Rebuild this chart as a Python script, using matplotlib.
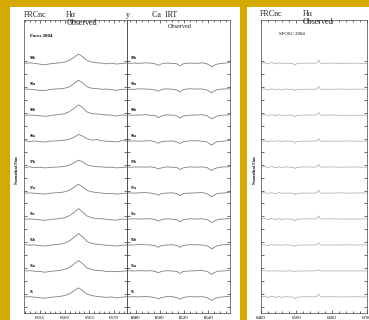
import matplotlib
matplotlib.use('Agg')
import matplotlib.pyplot as plt
import numpy as np
from matplotlib.patches import Rectangle
from matplotlib.ticker import MultipleLocator

plt.rcParams['font.family'] = ['Liberation Serif', 'DejaVu Serif']

# 觀測日期標籤（由上而下）
labels = ['99b', '99a', '98b', '98a', '97b', '97a', '96c', '96b', '96a', '95']

# H-alpha 波長格點與各列相對流量
ha_wave = [6552.0, 6553.0, 6554.0, 6555.0, 6556.0, 6557.0, 6558.0, 6559.0, 6560.0,
           6561.0, 6562.0, 6562.8, 6563.6, 6564.5, 6565.5, 6566.5, 6567.5, 6568.5,
           6569.5, 6570.5, 6571.5, 6572.5]
ha_flux = [
    [0.00, 0.02, 0.00, -0.03, -0.06, -0.02, 0.00, 0.02, 0.05, 0.12, 0.25, 0.36, 0.26, 0.12, 0.05, 0.02, 0.01, -0.02, 0.01, -0.03, 0.00, 0.01],
    [0.01, 0.00, -0.02, -0.04, -0.05, -0.01, 0.01, 0.02, 0.04, 0.10, 0.24, 0.35, 0.25, 0.10, 0.04, 0.03, 0.00, 0.01, -0.02, -0.04, 0.00, 0.00],
    [0.00, 0.01, 0.00, -0.02, -0.04, -0.02, 0.01, 0.03, 0.06, 0.14, 0.28, 0.40, 0.30, 0.13, 0.06, 0.05, 0.03, 0.01, 0.00, -0.03, 0.01, 0.00],
    [0.01, -0.01, 0.01, -0.02, -0.03, 0.00, 0.01, 0.02, 0.04, 0.08, 0.16, 0.26, 0.20, 0.10, 0.04, 0.06, 0.02, 0.00, -0.01, -0.03, 0.02, 0.01],
    [-0.01, 0.01, -0.02, 0.00, -0.03, -0.01, 0.00, 0.01, 0.03, 0.08, 0.18, 0.27, 0.21, 0.09, 0.04, 0.02, 0.01, -0.01, 0.00, -0.03, -0.01, 0.00],
    [0.00, 0.01, -0.01, -0.02, -0.04, -0.01, 0.01, 0.02, 0.05, 0.11, 0.24, 0.34, 0.24, 0.11, 0.05, 0.02, 0.00, -0.02, -0.01, -0.04, -0.02, 0.00],
    [0.00, 0.00, -0.01, -0.03, -0.05, -0.02, 0.00, 0.02, 0.05, 0.13, 0.27, 0.40, 0.28, 0.12, 0.05, 0.02, 0.01, -0.01, -0.03, -0.04, 0.00, -0.01],
    [0.01, 0.00, 0.00, -0.02, -0.04, -0.01, 0.01, 0.03, 0.07, 0.16, 0.31, 0.44, 0.32, 0.14, 0.06, 0.03, 0.01, -0.01, -0.02, -0.04, -0.01, 0.00],
    [0.00, 0.01, -0.01, -0.02, -0.05, -0.02, 0.00, 0.02, 0.06, 0.14, 0.28, 0.40, 0.29, 0.12, 0.05, 0.02, 0.01, -0.02, -0.01, -0.03, -0.01, 0.00],
    [0.00, 0.01, -0.01, -0.03, -0.05, -0.02, 0.00, 0.02, 0.05, 0.12, 0.25, 0.35, 0.25, 0.11, 0.05, 0.02, 0.00, -0.02, 0.00, -0.04, -0.01, 0.01],
]

# Ca IRT 波長格點與各列相對流量
ca_wave = [8473, 8478, 8483, 8488, 8492, 8496, 8498.5, 8501, 8505, 8510, 8514, 8516.5,
           8519, 8524, 8530, 8535, 8539, 8541, 8543, 8545, 8548, 8552, 8556, 8558]
ca_flux = [
    [0.00, 0.01, 0.00, 0.02, 0.01, -0.02, -0.08, -0.02, 0.01, 0.00, -0.02, -0.10, -0.02, 0.01, 0.00, 0.02, -0.02, -0.08, -0.13, -0.07, -0.02, 0.00, 0.02, 0.03],
    [0.00, 0.00, 0.02, 0.01, 0.00, -0.03, -0.07, -0.01, 0.02, 0.00, -0.03, -0.10, -0.01, 0.02, 0.01, 0.01, -0.03, -0.09, -0.14, -0.06, -0.01, 0.01, 0.02, 0.02],
    [0.01, 0.00, 0.01, 0.02, 0.00, -0.02, -0.09, -0.03, 0.01, 0.01, -0.02, -0.11, -0.03, 0.00, 0.01, 0.02, -0.02, -0.09, -0.14, -0.08, -0.02, 0.00, 0.01, 0.02],
    [0.00, 0.01, 0.00, 0.01, 0.02, -0.03, -0.08, -0.02, 0.00, 0.01, -0.03, -0.09, -0.02, 0.01, 0.02, 0.00, -0.03, -0.10, -0.15, -0.07, -0.01, 0.00, 0.02, 0.02],
    [0.00, 0.00, 0.01, 0.00, 0.01, -0.02, -0.07, -0.03, 0.01, 0.00, -0.02, -0.09, -0.03, 0.01, 0.00, 0.01, -0.02, -0.08, -0.13, -0.06, -0.02, 0.01, 0.01, 0.02],
    [0.01, 0.00, 0.01, 0.02, 0.00, -0.03, -0.08, -0.02, 0.00, 0.01, -0.02, -0.10, -0.02, 0.00, 0.01, 0.02, -0.03, -0.09, -0.14, -0.07, -0.01, 0.00, 0.02, 0.03],
    [0.00, 0.01, 0.00, 0.01, 0.01, -0.02, -0.08, -0.02, 0.01, 0.00, -0.03, -0.10, -0.03, 0.01, 0.00, 0.01, -0.02, -0.08, -0.14, -0.07, -0.02, 0.00, 0.01, 0.02],
    [0.00, 0.00, 0.02, 0.01, 0.00, -0.03, -0.09, -0.02, 0.00, 0.01, -0.02, -0.09, -0.02, 0.01, 0.01, 0.00, -0.03, -0.09, -0.15, -0.08, -0.02, 0.01, 0.02, 0.02],
    [0.01, 0.00, 0.01, 0.00, 0.01, -0.02, -0.07, -0.02, 0.01, 0.00, -0.02, -0.10, -0.02, 0.00, 0.01, 0.02, -0.02, -0.08, -0.13, -0.06, -0.01, 0.00, 0.01, 0.03],
    [0.00, 0.01, 0.00, 0.02, 0.00, -0.03, -0.08, -0.03, 0.01, 0.01, -0.03, -0.09, -0.02, 0.01, 0.00, 0.01, -0.03, -0.09, -0.14, -0.07, -0.02, 0.00, 0.02, 0.02],
]

# 寬波段（右圖）波長格點與各列相對流量
wide_wave = [6400, 6410, 6420, 6430, 6440, 6450, 6460, 6470, 6480, 6490, 6495, 6497,
             6500, 6510, 6530, 6550, 6558, 6563, 6568, 6580, 6600, 6620, 6640, 6660, 6680, 6700]
wide_flux = [
    [0.00, 0.02, -0.02, 0.03, -0.02, 0.02, -0.01, 0.01, 0.00, -0.01, -0.04, -0.07, -0.02, 0.00, 0.01, 0.00, 0.02, 0.12, 0.01, 0.00, 0.01, 0.00, 0.00, 0.01, 0.00, 0.00],
    [0.00, 0.01, -0.02, 0.02, -0.02, 0.01, -0.02, 0.01, 0.00, -0.01, -0.03, -0.06, -0.01, 0.00, 0.00, 0.00, 0.01, 0.11, 0.00, 0.00, 0.00, 0.01, 0.00, 0.00, 0.01, 0.00],
    [0.00, 0.02, -0.01, 0.02, -0.02, 0.02, -0.01, 0.00, 0.01, -0.01, -0.03, -0.06, -0.02, 0.00, 0.01, 0.00, 0.02, 0.10, 0.01, 0.00, 0.01, 0.00, 0.00, 0.00, 0.00, 0.01],
    [0.00, 0.01, -0.02, 0.02, -0.01, 0.02, -0.02, 0.01, 0.00, -0.01, -0.04, -0.07, -0.02, 0.00, 0.00, 0.01, 0.01, 0.10, 0.00, 0.00, 0.00, 0.00, 0.01, 0.00, 0.00, 0.00],
    [0.00, 0.02, -0.02, 0.03, -0.02, 0.01, -0.01, 0.01, 0.00, -0.01, -0.03, -0.06, -0.01, 0.00, 0.01, 0.00, 0.02, 0.11, 0.01, 0.00, 0.01, 0.00, 0.00, 0.01, 0.00, 0.00],
    [0.00, 0.01, -0.01, 0.02, -0.02, 0.02, -0.01, 0.00, 0.00, -0.01, -0.03, -0.07, -0.02, 0.00, 0.00, 0.00, 0.01, 0.12, 0.00, 0.00, 0.00, 0.01, 0.00, 0.00, 0.01, 0.00],
    [0.00, 0.02, -0.02, 0.02, -0.02, 0.02, -0.02, 0.01, 0.00, -0.01, -0.04, -0.07, -0.02, 0.00, 0.01, 0.00, 0.02, 0.12, 0.01, 0.00, 0.01, 0.00, 0.00, 0.00, 0.00, 0.01],
    [0.00, 0.01, -0.02, 0.02, -0.01, 0.01, -0.01, 0.01, 0.00, -0.01, -0.03, -0.06, -0.01, 0.00, 0.00, 0.00, 0.01, 0.09, 0.00, 0.00, 0.00, 0.00, 0.01, 0.00, 0.00, 0.00],
    [0.00, 0.01, -0.01, 0.01, -0.01, 0.01, -0.01, 0.00, 0.00, 0.00, -0.01, -0.02, -0.01, 0.00, 0.00, 0.00, 0.01, 0.05, 0.00, 0.00, 0.00, 0.00, 0.00, 0.00, 0.00, 0.00],
    [0.00, 0.02, -0.02, 0.03, -0.02, 0.02, -0.02, 0.01, 0.00, -0.01, -0.04, -0.08, -0.02, 0.00, 0.01, 0.00, 0.02, 0.12, 0.01, 0.00, 0.01, 0.00, 0.00, 0.01, 0.00, 0.00],
]

W, H = 369, 320
fig = plt.figure(figsize=(W / 100, H / 100), dpi=100)
fig.patch.set_facecolor('#D4AA00')

def fx(x):
    return x / W

def fy(y):
    return 1 - y / H

# 白色底板（放在最底層）
fig.patches.append(Rectangle((fx(10), 0), fx(230), fy(7), transform=fig.transFigure,
                             facecolor='white', edgecolor='none', zorder=-10))
fig.patches.append(Rectangle((fx(247), 0), fx(122), fy(7), transform=fig.transFigure,
                             facecolor='white', edgecolor='none', zorder=-10))

nrow = len(labels)
ylim = (-0.62, nrow - 1 + 1.67)

def make_ax(x0, x1, xlim, major, minor):
    ax = fig.add_axes([fx(x0), fy(313), fx(x1 - x0), fy(20) - fy(313)])
    ax.set_facecolor('none')
    ax.set_xlim(*xlim)
    ax.set_ylim(*ylim)
    ax.xaxis.set_major_locator(MultipleLocator(major))
    ax.xaxis.set_minor_locator(MultipleLocator(minor))
    ax.set_yticks([i - 0.4 for i in range(nrow)] + [i + 0.1 for i in range(nrow)])
    ax.set_yticklabels([])
    ax.tick_params(which='both', direction='in', top=True, right=True, width=0.4,
                   labelsize=3.5, pad=2)
    ax.tick_params(which='major', length=2.5)
    ax.tick_params(which='minor', length=1.2)
    for s in ax.spines.values():
        s.set_linewidth(0.5)
        s.set_color('#444444')
    return ax

ax1 = make_ax(24, 127, (6551.8, 6572.6), 5, 1)
ax2 = make_ax(127, 230, (8472.5, 8558), 20, 5)
ax3 = make_ax(261, 367, (6400, 6700), 100, 20)

for i, lab in enumerate(labels):
    base = nrow - 1 - i
    ax1.plot(ha_wave, np.array(ha_flux[i]) + base, color='#808080', lw=0.6)
    ax2.plot(ca_wave, np.array(ca_flux[i]) + base, color='#808080', lw=0.6)
    ax3.plot(wide_wave, np.array(wide_flux[i]) + base, color='#b0b0b0', lw=0.55)
    ax1.text(6553.0, base + 0.2, lab, fontsize=2.8, fontweight='bold', va='center')
    ax2.text(8475.5, base + 0.2, lab, fontsize=2.8, fontweight='bold', va='center')

ax1.text(6553.0, nrow - 1 + 1.07, 'Foces 2004', fontsize=3.5, fontweight='bold', va='center')
ax3.text(6450, nrow - 1 + 1.12, 'SFOSC 2004', fontsize=3.5, va='center')

# 標題文字
tkw = dict(fontsize=5.8, va='center', color='#222222')
fig.text(fx(24), fy(15), 'FRCnc', **tkw)
fig.text(fx(66), fy(15), 'H\u03b1', **tkw)
fig.text(fx(126), fy(15), 'y', **tkw)
fig.text(fx(152), fy(15), 'Ca  IRT', **tkw)
fig.text(fx(82), fy(23), 'Observed', ha='center', **tkw)
fig.text(fx(180), fy(27), 'Observed', ha='center', fontsize=4.5, va='center', color='#222222')
fig.text(fx(260), fy(14), 'FRCnc', **tkw)
fig.text(fx(303), fy(14), 'H\u03b1', **tkw)
fig.text(fx(318), fy(22), 'Observed', ha='center', **tkw)

fig.text(fx(17), fy(170), 'Normalized Flux', rotation=90, fontsize=2.8, fontweight='bold',
         ha='center', va='center')
fig.text(fx(255), fy(170), 'Normalized Flux', rotation=90, fontsize=2.8, fontweight='bold',
         ha='center', va='center')

fig.savefig('out.png', dpi=100, facecolor=fig.get_facecolor())
